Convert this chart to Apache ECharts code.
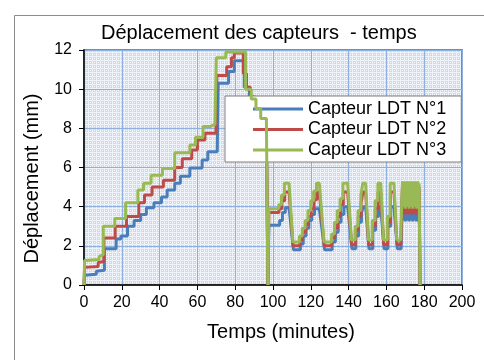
<!DOCTYPE html>
<html><head><meta charset="utf-8">
<script src="https://cdn.jsdelivr.net/npm/echarts@6/dist/echarts.min.js"></script>
<style>html,body{margin:0;padding:0;background:#fff}#c{width:484px;height:360px}</style>
</head><body><div id="c"></div><script>
const titleText = 'Déplacement des capteurs  - temps';
const xName = 'Temps (minutes)';
const yName = 'Déplacement (mm)';
const seriesNames = ['Capteur LDT N°1', 'Capteur LDT N°2', 'Capteur LDT N°3'];
const xTicks = [0, 20, 40, 60, 80, 100, 120, 140, 160, 180, 200];
const yTicks = [0, 2, 4, 6, 8, 10, 12];

// Capteur LDT N°1 (blue) [temps, déplacement]
const capteur1 = [
[0,0],[0.3,0.5],[6.5,0.55],[6.5,0.7],[10.8,0.75],[10.8,1.85],[17,1.85],[17,2.35],[19.5,2.35],[19.5,2.5],[23,2.5],[23,3.0],[26.5,3.0],[26.5,3.3],[30,3.3],[30,3.6],[33,3.6],[33,3.95],[37,3.95],[37,4.2],[41,4.2],[41,4.5],[44,4.5],[44,4.85],[48,4.85],[48,5.2],[51,5.2],[51,5.55],[56,5.55],[56,5.97],[62.5,5.97],[62.5,6.38],[65.5,6.38],[65.5,6.8],[70.5,6.8],[71,10.3],[76.5,10.3],[76.5,10.9],[79.5,10.9],[79.5,11.45],[84.8,11.45],[84.8,10.1],[87.5,10.1],[87.5,9.3],[90,9.3],[90,8.8],[92.5,8.8],[92.5,8.3],[96.5,8.3],[97.3,0],
[97.8,3.05],[103.5,3.05],[103.5,3.3],[105,3.3],[105,3.7],[106.5,3.7],[106.5,3.95],[108.5,3.95],[110.8,1.8],[114.5,1.8],[114.5,2.1],[116,2.1],[116,2.5],[117.5,2.5],[117.5,2.9],[119,2.9],[119,3.3],[120.5,3.3],[120.5,3.6],[122,3.6],[122,3.9],[124.5,3.9],[127.3,1.8],[131.3,1.8],[131.3,2.2],[133,2.2],[133,2.7],[134.5,2.7],[134.5,3.2],[136,3.2],[136,3.6],[137.5,3.6],[137.5,4.0],[139.5,4.0],[141.8,1.85],[143.8,1.85],[143.8,2.5],[145.3,2.5],[145.3,3.2],[146.8,3.2],[146.8,3.7],[147.8,3.7],[147.8,4.0],[149,4.0],[150.8,1.85],[152.8,1.85],[152.8,2.8],[154.3,2.8],[154.3,3.5],[155.8,3.5],[155.8,4.0],[157,4.0],[158.8,1.85],[160.8,1.85],[160.8,3.0],[162.3,3.0],[162.3,4.0],[164,4.0],[165.8,1.85],[167.8,1.85],
[168.5,4.9],[169,3.3],[169.5,4.9],[170,3.25],[170.5,4.9],[171,3.3],[171.5,4.9],[172,3.25],[172.5,4.9],[173,3.3],[173.5,4.9],[174,3.25],[174.5,4.9],[175,3.3],[175.5,4.9],[176,3.25],[176.5,4.9],[177,3.3],[177.3,4.8],[177.8,0]
];
// Capteur LDT N°2 (red)
const capteur2 = [
[0,0],[0.3,0.9],[7.5,0.95],[7.5,1.15],[10.5,1.2],[10.5,2.4],[16.5,2.4],[16.5,3.0],[22.5,3.0],[22.5,3.5],[29,3.5],[29,4.2],[32,4.2],[32,4.6],[36,4.6],[36,5.0],[42,5.0],[42,5.35],[48,5.35],[48,6.0],[52,6.0],[52,6.45],[57,6.45],[57,6.9],[60,6.9],[60,7.4],[64,7.4],[64,7.75],[69.8,7.75],[70.3,10.7],[75.5,10.7],[75.5,11.15],[78,11.15],[78,11.6],[79.5,11.6],[79.5,11.85],[84.3,11.85],[84.3,10.8],[86,10.8],[86,10.1],[88,10.1],[88,9.6],[90.5,9.6],[90.5,9.1],[93,9.1],[93,8.6],[96.5,8.6],[97.3,0],
[97.8,3.7],[103.2,3.7],[103.2,3.9],[104.7,3.9],[104.7,4.3],[106.2,4.3],[106.2,4.75],[108.5,4.75],[110.6,2.0],[114.2,2.0],[114.2,2.3],[115.7,2.3],[115.7,2.7],[117.2,2.7],[117.2,3.1],[118.7,3.1],[118.7,3.5],[120.2,3.5],[120.2,3.9],[121.7,3.9],[121.7,4.35],[123.2,4.35],[123.2,4.75],[124.5,4.75],[127.1,2.0],[131.1,2.0],[131.1,2.4],[132.7,2.4],[132.7,2.9],[134.2,2.9],[134.2,3.5],[135.7,3.5],[135.7,4.1],[137.2,4.1],[137.2,4.75],[139.5,4.75],[141.6,2.05],[143.6,2.05],[143.6,2.8],[145.1,2.8],[145.1,3.5],[146.6,3.5],[146.6,4.2],[147.6,4.2],[147.6,4.75],[149,4.75],[150.6,2.05],[152.6,2.05],[152.6,3.0],[154.1,3.0],[154.1,3.9],[155.6,3.9],[155.6,4.75],[157,4.75],[158.6,2.05],[160.6,2.05],[160.6,3.2],[162.1,3.2],[162.1,4.75],[164,4.75],[165.6,2.05],[167.6,2.05],
[168.5,5.1],[169,3.65],[169.5,5.1],[170,3.6],[170.5,5.1],[171,3.65],[171.5,5.1],[172,3.6],[172.5,5.1],[173,3.65],[173.5,5.1],[174,3.6],[174.5,5.1],[175,3.65],[175.5,5.1],[176,3.6],[176.5,5.1],[177,3.65],[177.3,5.0],[177.8,0]
];
// Capteur LDT N°3 (green)
const capteur3 = [
[0,0],[0.3,1.25],[8,1.3],[8,1.45],[10.2,1.55],[10.2,3.0],[16.3,3.0],[16.3,3.4],[22,3.4],[22,4.2],[28.5,4.2],[28.5,4.85],[31.5,4.85],[31.5,5.2],[35.5,5.2],[35.5,5.6],[41.5,5.6],[41.5,5.95],[48,5.95],[48,6.75],[56,6.75],[56,7.15],[59,7.15],[59,7.55],[63,7.55],[63,8.1],[67,8.1],[67.5,8.2],[69.3,8.2],[70,11.6],[75,11.6],[75,11.9],[85.5,11.9],[85.5,10.0],[88.5,10.0],[88.5,9.5],[91,9.5],[91,9.0],[93.5,9.0],[93.5,8.5],[96.5,8.5],[97.3,0],
[97.8,3.9],[103,3.9],[103,4.1],[104.5,4.1],[104.5,4.6],[106,4.6],[106,5.2],[108.5,5.2],[110.5,2.2],[114,2.2],[114,2.5],[115.5,2.5],[115.5,2.9],[117,2.9],[117,3.3],[118.5,3.3],[118.5,3.8],[120,3.8],[120,4.3],[121.5,4.3],[121.5,4.8],[123,4.8],[123,5.2],[124.5,5.2],[127,2.2],[131,2.2],[131,2.6],[132.5,2.6],[132.5,3.2],[134,3.2],[134,3.8],[135.5,3.8],[135.5,4.4],[137,4.4],[137,5.2],[139.5,5.2],[141.5,2.3],[143.5,2.3],[143.5,3.0],[145,3.0],[145,3.8],[146.5,3.8],[146.5,4.6],[147.5,4.6],[147.5,5.2],[149,5.2],[150.5,2.3],[152.5,2.3],[152.5,3.3],[154,3.3],[154,4.3],[155.5,4.3],[155.5,5.2],[157,5.2],[158.5,2.3],[160.5,2.3],[160.5,3.5],[162,3.5],[162,5.2],[164,5.2],[165.5,2.3],[167.5,2.3],
[168.5,5.3],[169,4.0],[169.5,5.3],[170,3.9],[170.5,5.3],[171,4.0],[171.5,5.3],[172,3.9],[172.5,5.3],[173,4.0],[173.5,5.3],[174,3.9],[174.5,5.3],[175,4.0],[175.5,5.3],[176,3.9],[176.5,5.3],[177,4.0],[177.3,5.2],[177.8,0]
];
const colors = ['#4a7ebb', '#be4b48', '#98b954'];

// Excel-like small grid pattern for the plot area
const pc = document.createElement('canvas'); pc.width = 4; pc.height = 4;
const g = pc.getContext('2d');
g.fillStyle = '#cbdaf0'; g.fillRect(0, 0, 4, 4);
g.fillStyle = '#eef3fb'; g.fillRect(0, 0, 4, 1); g.fillRect(0, 0, 1, 4);
g.fillStyle = '#ffffff'; g.fillRect(2, 2, 1, 1);

const font = 'Liberation Sans, Arial, sans-serif';
const chart = echarts.init(document.getElementById('c'), null, {renderer: 'canvas'});
chart.setOption({
  animation: false,
  backgroundColor: '#fff',
  textStyle: {fontFamily: font, color: '#000'},
  title: {text: titleText, left: 101, top: 23, padding: 0,
    textStyle: {fontSize: 20, fontWeight: 'normal', color: '#000', fontFamily: font}},
  graphic: [{type: 'rect', left: 12, top: 13, shape: {width: 600, height: 500},
    style: {fill: 'none', stroke: '#8c8c8c', lineWidth: 1}, silent: true, z: -10}],
  grid: {left: 84, right: 22, top: 50, bottom: 75, show: true,
    backgroundColor: {image: pc, repeat: 'repeat'}, borderColor: '#8a8a8a', borderWidth: 2},
  legend: {data: seriesNames, orient: 'vertical', left: 225, top: 96,
    icon: 'rect', itemWidth: 50, itemHeight: 3, itemGap: 2.5,
    padding: [4, 15, 3, 28], backgroundColor: '#fff', borderColor: '#7f7f7f', borderWidth: 1,
    textStyle: {fontSize: 18, color: '#000', fontFamily: font, lineHeight: 18}},
  xAxis: {type: 'value', min: xTicks[0], max: xTicks[xTicks.length - 1], interval: xTicks[1] - xTicks[0],
    name: xName, nameLocation: 'middle', nameGap: 37,
    nameTextStyle: {fontSize: 20, color: '#000', fontFamily: font, padding: [0, 0, 0, 16]},
    axisLine: {show: true, onZero: false, lineStyle: {color: '#000', width: 1.5}},
    axisTick: {show: true, length: 5, lineStyle: {color: '#000', width: 1}},
    axisLabel: {fontSize: 16, color: '#000', margin: 10, fontFamily: font},
    splitLine: {show: true, lineStyle: {color: '#8fb0dc', width: 1}}},
  yAxis: {type: 'value', min: yTicks[0], max: yTicks[yTicks.length - 1], interval: yTicks[1] - yTicks[0],
    name: yName, nameLocation: 'middle', nameGap: 42, nameRotate: 90,
    nameTextStyle: {fontSize: 20, color: '#000', fontFamily: font, padding: [0, 22, 0, 0]},
    axisLine: {show: true, onZero: false, lineStyle: {color: '#000', width: 1.5}},
    axisTick: {show: true, length: 5, lineStyle: {color: '#000', width: 1}},
    axisLabel: {fontSize: 16, color: '#000', margin: 12, fontFamily: font},
    splitLine: {show: true, lineStyle: {color: '#8fb0dc', width: 1}}},
  series: [capteur1, capteur2, capteur3].map((d, i) => ({
    name: seriesNames[i], type: 'line', data: d, showSymbol: false, symbol: 'none',
    color: colors[i], lineStyle: {color: colors[i], width: 3}, z: 2 + i
  }))
});
</script></body></html>
